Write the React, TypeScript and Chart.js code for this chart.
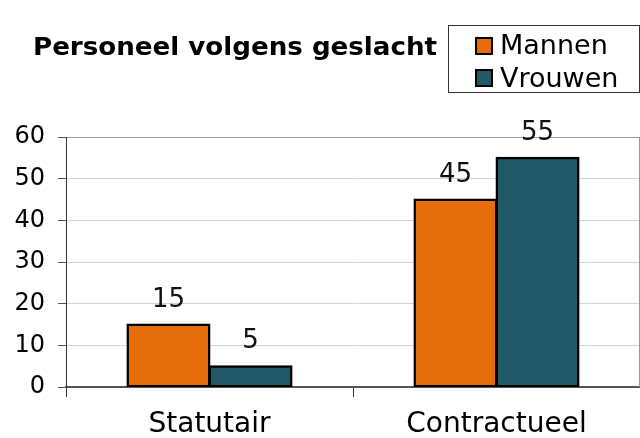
import React, { useEffect, useRef } from "react";
import { Chart, registerables } from "chart.js";

Chart.register(...registerables);

const chartTitle = "Personeel volgens geslacht";
const categories = ["Statutair", "Contractueel"];
const seriesNames = ["Mannen", "Vrouwen"];
const mannen = [15, 45];
const vrouwen = [5, 55];
const yMin = 0;
const yMax = 60;
const yStep = 10;
const seriesColors = ["#E46C0A", "#215968"];

const FONT = "'DejaVu Sans', Verdana, sans-serif";

const valueLabels = {
  id: "valueLabels",
  afterDatasetsDraw(chart: any) {
    const ctx = chart.ctx;
    ctx.save();
    ctx.font = `26px ${FONT}`;
    ctx.fillStyle = "#111";
    ctx.textAlign = "center";
    ctx.textBaseline = "alphabetic";
    chart.data.datasets.forEach((ds: any, di: number) => {
      const meta = chart.getDatasetMeta(di);
      meta.data.forEach((bar: any, i: number) => {
        ctx.fillText(String(ds.data[i]), bar.x, bar.y - 18);
      });
    });
    ctx.restore();
  },
};

const decor = {
  id: "decor",
  afterDraw(chart: any) {
    const ctx = chart.ctx;
    const area = chart.chartArea;
    ctx.save();
    // plot area right border
    ctx.strokeStyle = "#999";
    ctx.lineWidth = 1;
    ctx.beginPath();
    ctx.moveTo(area.right - 0.5, area.top);
    ctx.lineTo(area.right - 0.5, area.bottom);
    ctx.stroke();

    // title
    ctx.font = `bold 24px ${FONT}`;
    ctx.fillStyle = "#000";
    ctx.textAlign = "left";
    ctx.textBaseline = "alphabetic";
    const w = ctx.measureText(chartTitle).width;
    const sx = 404 / w;
    ctx.save();
    ctx.translate(33, 55);
    ctx.scale(sx, 1);
    ctx.fillText(chartTitle, 0, 0);
    ctx.restore();

    // legend
    ctx.strokeStyle = "#333";
    ctx.lineWidth = 1;
    ctx.strokeRect(448.5, 25.5, 191, 67);
    chart.data.datasets.forEach((ds: any, i: number) => {
      const top = i === 0 ? 37 : 69;
      ctx.fillStyle = ds.backgroundColor;
      ctx.fillRect(476, top + 1, 16, 16);
      ctx.strokeStyle = "#000";
      ctx.lineWidth = 2;
      ctx.strokeRect(476, top + 1, 16, 16);
      ctx.fillStyle = "#000";
      ctx.font = `27px ${FONT}`;
      ctx.fillText(ds.label, 500, i === 0 ? 54 : 87);
    });
    ctx.restore();
  },
};

export default function App() {
  const ref = useRef<HTMLCanvasElement | null>(null);

  useEffect(() => {
    if (!ref.current) return;
    const chart = new Chart(ref.current, {
      type: "bar",
      data: {
        labels: categories,
        datasets: [
          {
            label: seriesNames[0],
            data: mannen,
            backgroundColor: seriesColors[0],
            borderColor: "#000",
            borderWidth: 2.5,
            borderSkipped: false,
            inflateAmount: 1,
            categoryPercentage: 0.572,
            barPercentage: 1,
          },
          {
            label: seriesNames[1],
            data: vrouwen,
            backgroundColor: seriesColors[1],
            borderColor: "#000",
            borderWidth: 2.5,
            borderSkipped: false,
            inflateAmount: 1,
            categoryPercentage: 0.572,
            barPercentage: 1,
          },
        ],
      },
      options: {
        responsive: false,
        animation: false,
        devicePixelRatio: 1,
        layout: { padding: { top: 137, left: 0, right: 0, bottom: 0 } },
        plugins: {
          legend: { display: false },
          title: { display: false },
          tooltip: { enabled: false },
        },
        scales: {
          x: {
            offset: true,
            grid: {
              offset: true,
              drawOnChartArea: false,
              drawTicks: true,
              tickLength: 10,
              color: "#333",
              tickColor: "#333",
            },
            border: { color: "#555", width: 2 },
            ticks: {
              font: { family: FONT, size: 28 },
              color: "#000",
              padding: 11,
            },
            afterFit: (scale: any) => {
              scale.height = 51;
            },
          },
          y: {
            min: yMin,
            max: yMax,
            ticks: {
              stepSize: yStep,
              font: { family: FONT, size: 24 },
              color: "#000",
              padding: 13,
            },
            grid: {
              color: (c: any) => (c.tick && c.tick.value === yMax ? "#999" : "#d4d4d4"),
              tickColor: "#555",
              tickLength: 8,
            },
            border: { color: "#333", width: 1 },
            afterFit: (scale: any) => {
              scale.width = 66;
            },
          },
        },
      },
      plugins: [valueLabels, decor],
    });
    return () => chart.destroy();
  }, []);

  return (
    <div style={{ position: "absolute", left: 0, top: 0, width: 640, height: 438, background: "#fff" }}>
      <canvas ref={ref} width={640} height={438} />
    </div>
  );
}
